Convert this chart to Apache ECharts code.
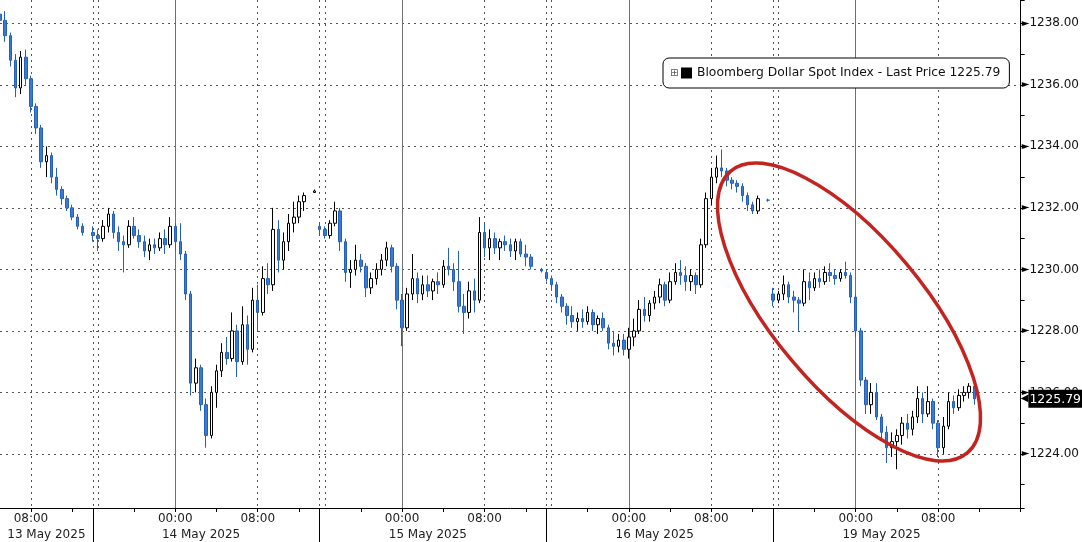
<!DOCTYPE html>
<html>
<head>
<meta charset="utf-8">
<script src="https://cdn.jsdelivr.net/npm/echarts@6/dist/echarts.min.js"></script>
<style>
html,body{margin:0;padding:0;background:#ffffff;}
#chart{width:1082px;height:542px;}
</style>
</head>
<body>
<div id="chart"></div>
<script>
// ---------- data ----------
const seriesName = 'Bloomberg Dollar Spot Index - Last Price 1225.79';
const lastPrice = 1225.79;
const sessionDates = ['13 May 2025', '14 May 2025', '15 May 2025', '16 May 2025', '19 May 2025'];
const sessionFirstDay = [13, 13, 14, 15, 18];
const sessionFirstTime = ['05:00', '16:00', '16:00', '16:00', '16:00'];
const timeLabels = ['00:00', '08:00'];
const yMin = 1222.24, yMax = 1238.76;

// 30-minute bars: [open, close, low, high]; null = no trading
const ohlc13 = [
  [1238.3,1238.1,1237.9,1238.55],[1238.1,1237.6,1237.4,1238.4],[1237.6,1236.8,1236.6,1237.7],
  [1236.8,1235.9,1235.6,1237.0],[1235.9,1236.9,1235.7,1237.1],[1236.9,1236.2,1236.0,1237.15],
  [1236.2,1235.3,1235.1,1236.3],[1235.3,1234.6,1234.4,1235.4],[1234.6,1233.5,1233.3,1234.7],
  [1233.5,1233.7,1233.0,1234.0],[1233.7,1233.0,1232.8,1233.8],[1233.0,1232.6,1232.4,1233.3],
  [1232.6,1232.3,1232.1,1232.7],[1232.3,1232.0,1231.9,1232.4],[1232.0,1231.7,1231.6,1232.1],
  [1231.7,1231.4,1231.3,1231.8],[1231.4,1231.2,1231.1,1231.5],null
];
const ohlc14 = [
  [1231.2,1231.1,1230.9,1231.4],[1231.1,1231.0,1230.6,1231.3],[1231.0,1231.4,1230.9,1231.6],
  [1231.4,1231.8,1231.2,1232.0],[1231.8,1231.2,1231.0,1231.9],[1231.2,1230.9,1230.6,1231.4],
  [1230.9,1230.8,1229.9,1231.1],[1230.8,1231.4,1230.7,1231.6],[1231.4,1231.1,1231.0,1231.7],
  [1231.1,1230.9,1230.7,1231.3],[1230.9,1230.6,1230.4,1231.1],[1230.6,1230.8,1230.3,1231.0],
  [1230.8,1230.7,1230.5,1231.0],[1230.7,1231.0,1230.6,1231.2],[1231.0,1230.8,1230.5,1231.3],
  [1230.8,1231.4,1230.7,1231.7],[1231.4,1230.9,1230.6,1231.5],[1230.9,1230.5,1230.3,1231.5],
  [1230.5,1229.2,1229.0,1230.6],[1229.2,1226.3,1225.9,1229.3],[1226.3,1226.8,1226.0,1227.1],
  [1226.8,1225.6,1225.4,1226.9],[1225.6,1224.6,1224.2,1225.8],[1224.6,1226.0,1224.5,1226.2],
  [1226.0,1226.7,1225.5,1226.9],[1226.7,1227.3,1226.5,1227.6],[1227.3,1227.1,1226.9,1227.8],
  [1227.1,1228.0,1227.0,1228.6],[1228.0,1227.0,1226.5,1228.2],[1227.0,1228.2,1226.9,1228.8],
  [1228.2,1227.4,1226.9,1228.5],[1227.4,1229.0,1227.3,1229.4],[1229.0,1228.6,1228.0,1229.5],
  [1228.6,1229.7,1228.5,1230.1],[1229.7,1229.5,1229.2,1230.2],[1229.5,1231.3,1229.3,1232.0],
  [1231.3,1230.3,1229.9,1231.6],[1230.3,1230.9,1230.0,1231.2],[1230.9,1231.5,1230.6,1231.8],
  [1231.5,1231.7,1231.2,1232.2],[1231.7,1232.2,1231.5,1232.4],[1232.2,1232.4,1231.9,1232.5],
  null,[1232.5,1232.55,1232.5,1232.6]
];
const ohlc15 = [
  [1231.4,1231.3,1231.1,1231.5],[1231.3,1231.1,1231.0,1231.4],[1231.1,1231.5,1231.0,1231.6],
  [1231.5,1231.9,1231.4,1232.2],[1231.9,1230.9,1230.6,1232.0],[1230.9,1229.9,1229.6,1231.0],
  [1229.9,1230.0,1229.4,1230.3],[1230.0,1230.3,1229.8,1230.8],[1230.3,1230.1,1229.9,1230.5],
  [1230.1,1229.4,1229.1,1230.2],[1229.4,1229.7,1229.2,1229.9],[1229.7,1230.0,1229.5,1230.2],
  [1230.0,1230.3,1229.8,1230.5],[1230.3,1230.7,1230.1,1230.9],[1230.7,1230.1,1229.9,1230.8],
  [1230.1,1229.0,1228.7,1230.2],[1229.0,1228.1,1227.5,1229.2],[1228.1,1229.2,1228.0,1229.4],
  [1229.2,1229.7,1229.0,1230.5],[1229.7,1229.2,1228.9,1229.9],[1229.2,1229.5,1229.0,1229.8],
  [1229.5,1229.3,1229.1,1229.8],[1229.3,1229.6,1229.0,1229.7],[1229.6,1229.5,1229.2,1229.9],
  [1229.5,1230.1,1229.4,1230.3],[1230.1,1230.0,1229.8,1230.7],[1230.0,1229.6,1229.3,1230.2],
  [1229.6,1228.8,1228.6,1230.6],[1228.8,1228.6,1227.9,1229.2],[1228.6,1229.3,1228.4,1229.6],
  [1229.3,1229.0,1228.6,1229.7],[1229.0,1231.2,1228.9,1231.7],[1231.2,1230.7,1230.4,1231.5],
  [1230.7,1231.0,1230.3,1231.3],[1231.0,1230.7,1230.5,1231.2],[1230.7,1230.9,1230.3,1231.0],
  [1230.9,1230.8,1230.6,1231.1],[1230.8,1230.6,1230.4,1231.0],[1230.6,1230.9,1230.3,1231.0],
  [1230.9,1230.5,1230.4,1231.0],[1230.5,1230.4,1230.1,1230.8],[1230.4,1230.1,1230.0,1230.5],
  null,[1230.0,1229.95,1229.9,1230.05]
];
const ohlc16 = [
  [1229.9,1229.7,1229.6,1230.0],[1229.7,1229.5,1229.3,1229.8],[1229.5,1229.1,1228.9,1229.6],
  [1229.1,1228.8,1228.6,1229.2],[1228.8,1228.5,1228.2,1228.9],[1228.5,1228.3,1228.1,1228.8],
  [1228.3,1228.4,1228.0,1228.6],[1228.4,1228.3,1228.1,1228.7],[1228.3,1228.6,1228.2,1228.8],
  [1228.6,1228.2,1228.0,1228.7],[1228.2,1228.4,1227.9,1228.5],[1228.4,1228.1,1228.0,1228.6],
  [1228.1,1227.6,1227.4,1228.2],[1227.6,1227.5,1227.2,1228.0],[1227.5,1227.7,1227.3,1227.9],
  [1227.7,1227.4,1227.2,1227.9],[1227.4,1227.8,1227.1,1228.1],[1227.8,1228.0,1227.5,1228.4],
  [1228.0,1228.7,1227.9,1229.0],[1228.7,1228.5,1228.3,1229.1],[1228.5,1228.9,1228.3,1229.0],
  [1228.9,1229.1,1228.7,1229.3],[1229.1,1229.5,1228.9,1229.7],[1229.5,1229.0,1228.8,1229.6],
  [1229.0,1229.6,1228.9,1229.9],[1229.6,1229.9,1229.5,1230.2],[1229.9,1229.8,1229.5,1230.3],
  [1229.8,1229.6,1229.3,1230.1],[1229.6,1229.8,1229.3,1230.0],[1229.8,1229.5,1229.2,1229.9],
  [1229.5,1230.8,1229.4,1231.0],[1230.8,1232.3,1230.7,1232.5],[1232.3,1233.0,1232.1,1233.3],
  [1233.0,1233.3,1232.8,1233.7],[1233.3,1233.2,1233.0,1233.9],[1233.2,1232.9,1232.7,1233.3],
  [1232.9,1232.8,1232.6,1233.0],[1232.8,1232.7,1232.5,1232.9],[1232.7,1232.4,1232.2,1232.8],
  [1232.4,1232.1,1231.9,1232.5],[1232.1,1231.9,1231.8,1232.2],[1231.9,1232.3,1231.8,1232.4],
  null,[1232.25,1232.25,1232.2,1232.3]
];
const ohlc19 = [
  [1229.2,1229.0,1228.8,1229.4],[1229.0,1229.2,1228.9,1229.3],[1229.2,1229.5,1229.0,1229.8],
  [1229.5,1229.1,1228.9,1229.6],[1229.1,1229.0,1228.6,1229.3],[1229.0,1228.9,1228.0,1229.1],
  [1228.9,1229.6,1228.8,1230.0],[1229.6,1229.4,1229.0,1229.9],[1229.4,1229.7,1229.3,1229.9],
  [1229.7,1229.6,1229.4,1230.0],[1229.6,1229.9,1229.5,1230.1],[1229.9,1229.8,1229.6,1230.2],
  [1229.8,1229.7,1229.5,1230.0],[1229.7,1229.9,1229.6,1230.0],[1229.9,1229.8,1229.7,1230.25],
  [1229.8,1229.1,1228.9,1229.9],[1229.1,1228.0,1227.8,1229.2],[1228.0,1226.4,1226.2,1228.1],
  [1226.4,1225.6,1225.3,1226.5],[1225.6,1226.0,1225.3,1226.3],[1226.0,1225.2,1225.1,1226.3],
  [1225.2,1224.7,1224.5,1225.3],[1224.7,1224.2,1223.7,1224.9],[1224.2,1224.4,1223.9,1224.7],
  [1224.4,1224.6,1223.5,1224.8],[1224.6,1225.0,1224.3,1225.2],[1225.0,1224.8,1224.5,1225.3],
  [1224.8,1225.2,1224.6,1225.4],[1225.2,1225.8,1225.0,1226.2],[1225.8,1225.3,1225.0,1226.0],
  [1225.3,1225.7,1225.2,1226.2],[1225.7,1225.0,1224.8,1225.8],[1225.0,1224.2,1223.9,1225.1],
  [1224.2,1224.9,1224.0,1225.2],[1224.9,1225.7,1224.8,1226.0],[1225.7,1225.5,1225.3,1225.9],
  [1225.5,1225.9,1225.4,1226.1],[1225.9,1226.0,1225.7,1226.2],[1226.0,1226.2,1225.8,1226.3],
  [1226.2,1225.79,1225.6,1226.3],
  null,null,null,null,null,null,null,null,null
];
const sessionData = [ohlc13, ohlc14, ohlc15, ohlc16, ohlc19];

// ---------- build category table ----------
const cats = [], candles = [], sessionStartIdx = [], dateLabelAt = {};
const pad = n => String(n).padStart(2, '0');
sessionData.forEach((rows, s) => {
  let day = sessionFirstDay[s];
  let [h, m] = sessionFirstTime[s].split(':').map(Number);
  sessionStartIdx.push(cats.length);
  dateLabelAt[cats.length + Math.floor(Math.min(rows.length, 43) / 2)] = sessionDates[s];
  rows.forEach(r => {
    cats.push(day + ' ' + pad(h) + ':' + pad(m));
    candles.push(r ? r : ['-', '-', '-', '-']);
    m += 30; if (m >= 60) { m -= 60; h++; }
    if (h >= 24) { h -= 24; day++; }
  });
});
const hhmm = v => v.slice(-5);
const innerStarts = sessionStartIdx.slice(1);

const FONT = "'DejaVu Sans', sans-serif";
const dotted = { color: '#555555', width: 1, type: [2, 4] };

const chart = echarts.init(document.getElementById('chart'), null, { renderer: 'canvas' });
chart.setOption({
  animation: false,
  backgroundColor: '#ffffff',
  textStyle: { fontFamily: FONT },
  grid: { left: 0, right: 59, top: 0, bottom: 34, containLabel: false },
  legend: {
    data: [seriesName], selectedMode: false,
    left: 663, top: 58, padding: [9, 9, 9, 18],
    icon: 'rect', itemWidth: 11, itemHeight: 11,
    itemStyle: { color: '#000000', borderWidth: 0 },
    backgroundColor: '#ffffff', borderColor: '#000000', borderWidth: 1, borderRadius: 6,
    textStyle: { fontSize: 12.3, color: '#111111', fontFamily: FONT }
  },
  xAxis: [
    {
      type: 'category', data: cats, boundaryGap: false, position: 'bottom',
      axisLine: { show: true, lineStyle: { color: '#000000', width: 1 } },
      axisTick: {
        show: true, length: 4, lineStyle: { color: '#000000' },
        interval: (i, v) => v.slice(-2) === '00' && (+v.slice(-5, -3)) % 4 === 0
      },
      axisLabel: {
        interval: (i, v) => timeLabels.indexOf(hhmm(v)) >= 0,
        formatter: v => hhmm(v), margin: 5, fontSize: 12, color: '#222222', fontFamily: FONT
      },
      splitLine: {
        show: true,
        interval: (i, v) => hhmm(v) === '08:00' || innerStarts.indexOf(i) >= 0 || innerStarts.indexOf(i - 1) >= 0,
        lineStyle: dotted
      }
    },
    {
      type: 'category', data: cats, boundaryGap: false, position: 'bottom',
      axisLine: { show: false }, axisTick: { show: false }, axisLabel: { show: false },
      splitLine: { show: true, interval: (i, v) => hhmm(v) === '00:00', lineStyle: { color: '#6f6f6f', width: 1, type: 'solid' } }
    },
    {
      type: 'category', data: cats, boundaryGap: false, position: 'bottom',
      axisLine: { show: false },
      axisTick: { show: true, length: 34, lineStyle: { color: '#000000' }, interval: (i) => innerStarts.indexOf(i) >= 0 },
      axisLabel: {
        interval: (i) => dateLabelAt[i] !== undefined,
        formatter: (v, i) => dateLabelAt[i] || '', margin: 21, fontSize: 12, color: '#222222', fontFamily: FONT
      },
      splitLine: { show: false }
    }
  ],
  yAxis: [
    {
      type: 'value', position: 'right', min: yMin, max: yMax, scale: true,
      splitNumber: 8, minInterval: 2, maxInterval: 2,
      axisLine: { show: true, lineStyle: { color: '#000000', width: 1 } },
      axisTick: { show: false },
      splitLine: { show: true, showMinLine: false, showMaxLine: false, lineStyle: dotted },
      axisLabel: {
        showMinLabel: false, showMaxLabel: false, margin: 0,
        formatter: v => '{t|►}' + v.toFixed(2),
        fontSize: 12, color: '#111111', fontFamily: FONT,
        rich: { t: { fontSize: 10, color: '#000000', padding: [0, 0, 0, 1] } }
      }
    },
    {
      type: 'value', position: 'right', min: yMin, max: yMax, scale: true,
      splitNumber: 16, minInterval: 1, maxInterval: 1,
      axisLine: { show: false }, splitLine: { show: false }, axisLabel: { show: false },
      axisTick: { show: true, length: 4, lineStyle: { color: '#000000' } }
    }
  ],
  series: [
    {
      type: 'candlestick', name: seriesName, xAxisIndex: 0, yAxisIndex: 0,
      data: candles, barWidth: 3,
      itemStyle: { color: '#ffffff', color0: '#3b7ad2', borderColor: '#000000', borderColor0: '#2460b8', borderWidth: 1 }
    },
    {
      type: 'line', name: 'last', xAxisIndex: 0, yAxisIndex: 0, data: [], silent: true,
      markLine: {
        silent: true, symbol: 'none', animation: false,
        lineStyle: { width: 0, color: '#555555' },
        data: [{ yAxis: lastPrice }],
        label: {
          show: true, position: 'end', distance: 0,
          formatter: '{n|◀}{b|' + lastPrice.toFixed(2) + '}',
          rich: {
            n: { fontSize: 10, color: '#000000' },
            b: { backgroundColor: '#000000', color: '#ffffff', fontSize: 12.5, fontFamily: FONT, padding: [3, 4, 2, 1] }
          }
        }
      }
    }
  ],
  graphic: [
    {
      type: 'ellipse', x: 849, y: 312, rotation: -50 * Math.PI / 180, z: 100, silent: true,
      shape: { cx: 0, cy: 0, rx: 184, ry: 75 },
      style: { fill: 'none', stroke: '#c42420', lineWidth: 3.5 }
    },
    {
      type: 'text', x: 670, y: 68, z: 100, silent: true,
      style: { text: '⊞', fontSize: 10, fill: '#555555', fontFamily: FONT }
    }
  ]
});
</script>
</body>
</html>
